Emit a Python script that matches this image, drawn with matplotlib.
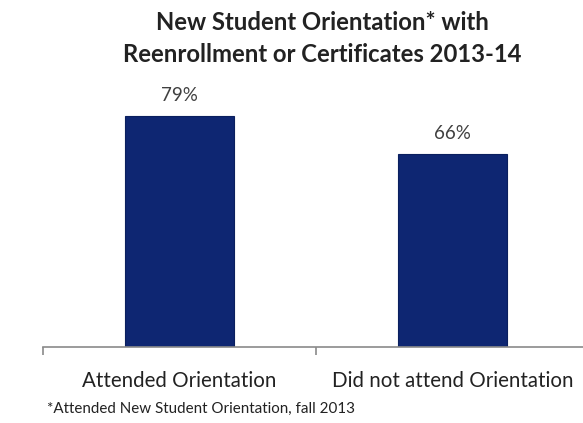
import matplotlib.pyplot as plt

# data
categories = ['Attended Orientation', 'Did not attend Orientation']
rates = [79, 66]
value_labels = ['79%', '66%']
title_lines = ['New Student Orientation* with', 'Reenrollment or Certificates 2013-14']
footnote = '*Attended New Student Orientation, fall 2013'

plt.rcParams['font.family'] = ['Lato', 'DejaVu Sans']

fig = plt.figure(figsize=(5.83, 4.23), dpi=100)
ax = fig.add_axes([43 / 583, 76 / 423, 546 / 583, 293 / 423])

x = list(range(len(categories)))
bars = ax.bar(x, rates, width=0.40, color='#0e2672', edgecolor='#0a1f5e', linewidth=0.8)

for xi, v, lab in zip(x, rates, value_labels):
    ax.text(xi, v + 4, lab, ha='center', va='bottom', fontsize=13.5, color='#404040')

ax.set_xlim(-0.5, len(categories) - 0.5)
ax.set_ylim(0, 100)

for side in ['top', 'right', 'left']:
    ax.spines[side].set_visible(False)
ax.spines['bottom'].set_color('#8a8a8a')
ax.spines['bottom'].set_linewidth(1.2)

# category boundaries as major ticks, names as minor ticks
ax.set_xticks([-0.5, 0.5, 1.5])
ax.set_xticklabels([])
ax.tick_params(axis='x', which='major', length=6, width=1.2, color='#8a8a8a', direction='out')
ax.set_xticks(x, minor=True)
ax.set_xticklabels(categories, minor=True, fontsize=14.8, color='#222222')
ax.tick_params(axis='x', which='minor', length=0, pad=17)
ax.set_yticks([])

for yy, line in zip([22, 54], title_lines):
    fig.text(322 / 583, 1 - yy / 423, line, ha='center', va='center',
             fontsize=17.2, fontweight='bold', color='#222222')

fig.text(47 / 583, 1 - 409 / 423, footnote,
         ha='left', va='center', fontsize=10.9, color='#222222')

fig.savefig('out.png', dpi=100)
